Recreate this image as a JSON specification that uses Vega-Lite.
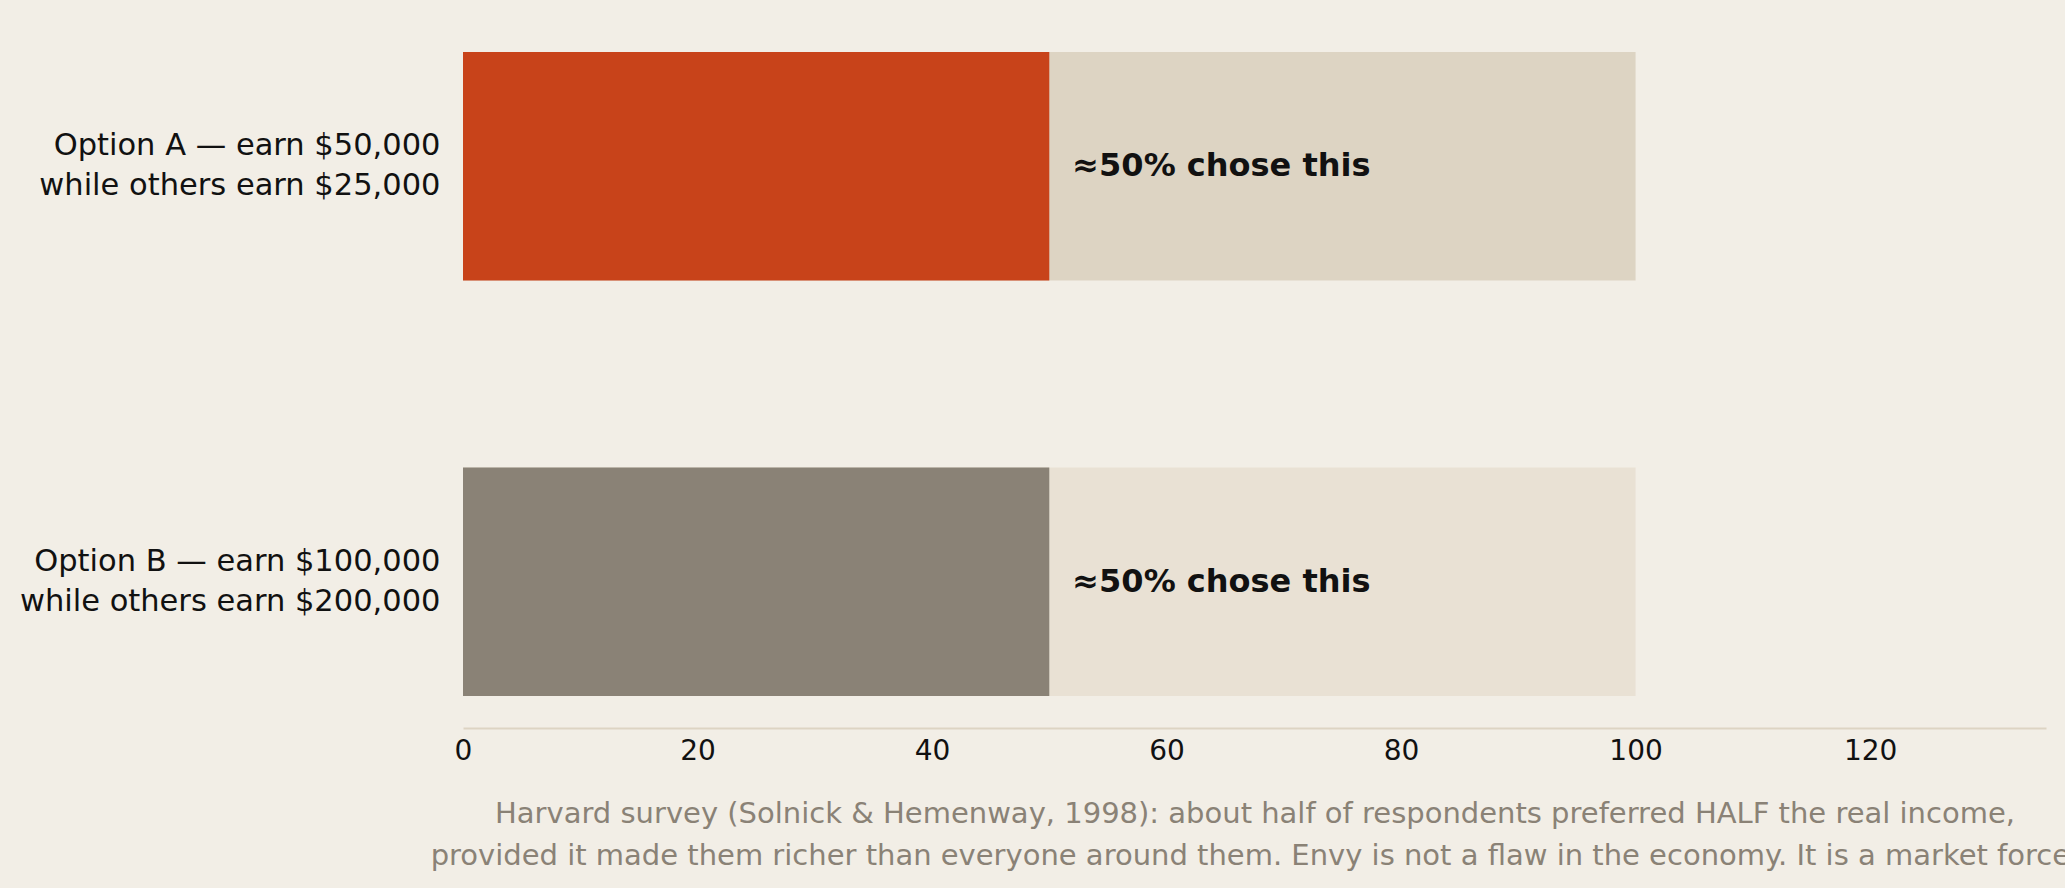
{
  "$schema": "https://vega.github.io/schema/vega-lite/v6.json",
  "width": 1583,
  "height": 708,
  "autosize": {"type": "none"},
  "padding": {"left": 463, "top": 20, "right": 19, "bottom": 160},
  "background": "#F2EEE6",
  "config": {
    "font": "DejaVu Sans",
    "view": {"stroke": null}
  },
  "data": {
    "values": [
      {"option": "A", "label": "Option A — earn $50,000|while others earn $25,000", "chose": 50, "total": 100, "note": "≈50% chose this"},
      {"option": "B", "label": "Option B — earn $100,000|while others earn $200,000", "chose": 50, "total": 100, "note": "≈50% chose this"}
    ]
  },
  "encoding": {
    "y": {
      "field": "label",
      "type": "nominal",
      "sort": null,
      "scale": {"paddingInner": 0.45, "paddingOuter": 0.077},
      "axis": {
        "title": null,
        "labelExpr": "split(datum.label, '|')",
        "labelFontSize": 30.5,
        "labelLineHeight": 40,
        "labelOffset": -20,
        "labelColor": "#111111",
        "labelPadding": 23,
        "ticks": false,
        "tickSize": 0,
        "domain": false,
        "labelLimit": 0
      }
    }
  },
  "layer": [
    {
      "mark": {"type": "bar"},
      "encoding": {
        "x": {
          "field": "total",
          "type": "quantitative",
          "scale": {"domain": [0, 135], "nice": false},
          "axis": {
            "values": [0, 20, 40, 60, 80, 100, 120],
            "grid": false,
            "ticks": false,
            "tickSize": 0,
            "labelFlush": false,
            "domainColor": "#DDD4C3",
            "domainWidth": 2,
            "labelFontSize": 28,
            "labelColor": "#111111",
            "labelPadding": 9,
            "title": [
              "Harvard survey (Solnick & Hemenway, 1998): about half of respondents preferred HALF the real income,",
              "provided it made them richer than everyone around them. Envy is not a flaw in the economy. It is a market force."
            ],
            "titleFontSize": 29,
            "titleFontWeight": "normal",
            "titleColor": "#8A8276",
            "titleLineHeight": 42,
            "titlePadding": 34
          }
        },
        "color": {
          "field": "option",
          "type": "nominal",
          "scale": {"domain": ["A", "B"], "range": ["#DDD4C3", "#E9E1D4"]},
          "legend": null
        }
      }
    },
    {
      "mark": {"type": "bar"},
      "encoding": {
        "x": {"field": "chose", "type": "quantitative"},
        "color": {
          "field": "option",
          "type": "nominal",
          "scale": {"domain": ["A", "B"], "range": ["#C8431A", "#8A8276"]},
          "legend": null
        }
      }
    },
    {
      "mark": {"type": "text", "align": "left", "baseline": "middle", "dx": 23, "fontSize": 32, "fontWeight": "bold", "color": "#111111"},
      "encoding": {
        "x": {"field": "chose", "type": "quantitative"},
        "text": {"field": "note"}
      }
    }
  ],
  "resolve": {"scale": {"color": "independent"}}
}
